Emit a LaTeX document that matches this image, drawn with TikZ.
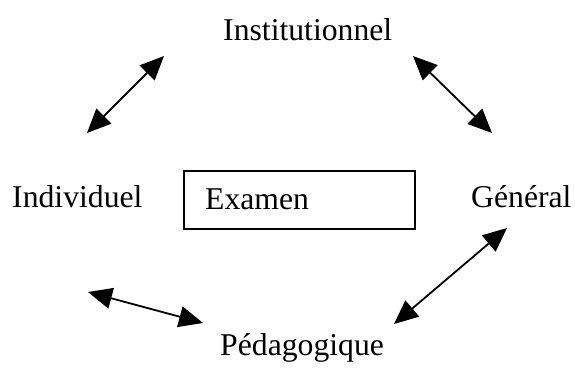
\documentclass[tikz,border=0pt]{standalone}
\usepackage{fontspec}
\setmainfont{Liberation Serif}
\usetikzlibrary{arrows.meta}
\begin{document}
\begin{tikzpicture}[x=1pt,y=-1pt,
  lbl/.style={anchor=base west,inner sep=0pt,font=\fontsize{31.7}{36}\selectfont},
  link/.style={line width=1.8pt,{Triangle[length=24pt,width=21pt]}-{Triangle[length=24pt,width=21pt]}}]
\useasboundingbox (0,0) rectangle (575,367);
\node[lbl] (inst) at (223,40) {Institutionnel};
\node[lbl] (indiv) at (12,207) {Individuel};
\node[lbl] (gen) at (471,207) {Général};
\node[lbl] (peda) at (220,355) {Pédagogique};
\draw[line width=1.5pt] (184,171) rectangle (415,229);
\node[lbl] (exam) at (205,209) {Examen};
\coordinate (a1) at (87,133);
\coordinate (a2) at (164,56);
\coordinate (b1) at (413,56);
\coordinate (b2) at (492,133);
\coordinate (c1) at (88,292);
\coordinate (c2) at (203,323);
\coordinate (d1) at (507,228);
\coordinate (d2) at (394,324);
\draw[link] (a1) -- (a2);
\draw[link] (b1) -- (b2);
\draw[link] (c1) -- (c2);
\draw[link] (d1) -- (d2);
\end{tikzpicture}
\end{document}
